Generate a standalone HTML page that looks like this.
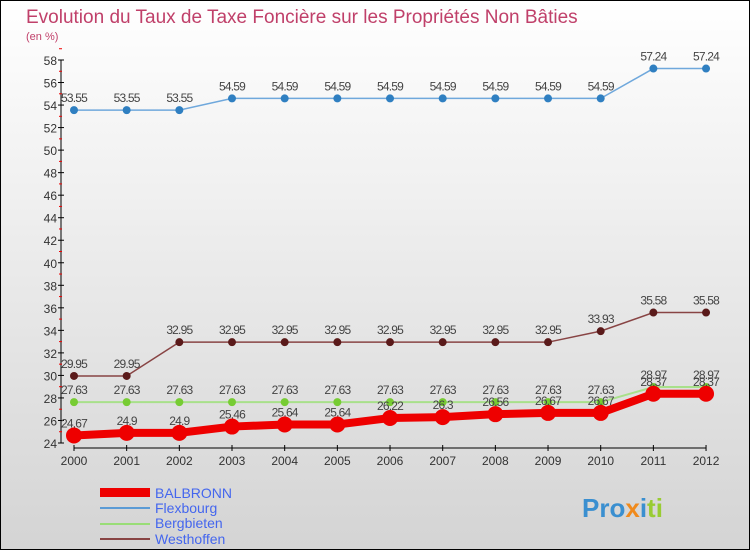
<!DOCTYPE html>
<html><head><meta charset="utf-8"><style>
body{margin:0;width:750px;height:550px;overflow:hidden;font-family:"Liberation Sans",sans-serif}
</style></head><body>
<svg id="c" width="750" height="550" xmlns="http://www.w3.org/2000/svg">
<defs><linearGradient id="bg" x1="0" y1="0" x2="0" y2="1"><stop offset="0" stop-color="#ffffff"/><stop offset="1" stop-color="#d4d4d4"/></linearGradient></defs>
<rect x="0.5" y="0.5" width="749" height="549" fill="url(#bg)" stroke="#000"/>
<text x="26" y="23" font-size="19" fill="#c0406a">Evolution du Taux de Taxe Foncière sur les Propriétés Non Bâties</text>
<text x="26" y="40" font-size="11" fill="#c0406a">(en %)</text>
<g id="axes"></g><g id="series"></g>
<g>
<rect x="100" y="488" width="50" height="9" fill="#e00"/>
<text x="155" y="498" font-size="14" fill="#4466ee">BALBRONN</text>
<line x1="100" y1="508" x2="150" y2="508" stroke="#5b9bd5" stroke-width="2"/>
<text x="155" y="513" font-size="14" fill="#4466ee">Flexbourg</text>
<line x1="100" y1="524" x2="150" y2="524" stroke="#99dd77" stroke-width="2"/>
<text x="155" y="528" font-size="14" fill="#4466ee">Bergbieten</text>
<line x1="100" y1="539" x2="150" y2="539" stroke="#884444" stroke-width="2"/>
<text x="155" y="544" font-size="14" fill="#4466ee">Westhoffen</text>
</g>
<text x="582" y="517" font-size="26" font-weight="bold"><tspan fill="#3a8fd0">Pro</tspan><tspan fill="#f08a1c">x</tspan><tspan fill="#3a8fd0">i</tspan><tspan fill="#99cc33">ti</tspan></text>
</svg>
<script>
const years=[2000,2001,2002,2003,2004,2005,2006,2007,2008,2009,2010,2011,2012];
const balbronn=[24.67,24.9,24.9,25.46,25.64,25.64,26.22,26.3,26.56,26.67,26.67,28.37,28.37];
const flexbourg=[53.55,53.55,53.55,54.59,54.59,54.59,54.59,54.59,54.59,54.59,54.59,57.24,57.24];
const bergbieten=[27.63,27.63,27.63,27.63,27.63,27.63,27.63,27.63,27.63,27.63,27.63,28.97,28.97];
const westhoffen=[29.95,29.95,32.95,32.95,32.95,32.95,32.95,32.95,32.95,32.95,33.93,35.58,35.58];
const yTicks=[24,26,28,30,32,34,36,38,40,42,44,46,48,50,52,54,56,58];
const NS="http://www.w3.org/2000/svg";
const x=i=>74+i*52.67;
const y=v=>443-(v-24)*(383/34);
function mk(t,a,p){const e=document.createElementNS(NS,t);for(const k in a)e.setAttribute(k,a[k]);p.appendChild(e);return e;}
const ax=document.getElementById('axes');
const yl=mk('line',{x1:61,y1:y(58),x2:61,y2:443,stroke:'#000'},ax);


yTicks.forEach(v=>{
 mk('line',{x1:58,y1:y(v),x2:64,y2:y(v),stroke:'#000'},ax);
 mk('line',{x1:59,y1:y(v+1),x2:62,y2:y(v+1),stroke:'#e00'},ax);
 const t=mk('text',{x:57,y:y(v)+5,'font-size':12,fill:'#333','text-anchor':'end'},ax);t.textContent=v;
 
 
});
const xl=mk('line',{x1:74,y1:448,x2:706,y2:448,stroke:'#000'},ax);


years.forEach((yr,i)=>{
 mk('line',{x1:x(i),y1:445,x2:x(i),y2:451,stroke:'#000'},ax);
 const t=mk('text',{x:x(i),y:465,'font-size':12,fill:'#333','text-anchor':'middle'},ax);t.textContent=yr;
 
 
});
const sg=document.getElementById('series');
function series(name,data,color,w,r,dot){
 const g=mk('g',{},sg);
 
 
 const pl=mk('polyline',{points:data.map((v,i)=>x(i)+','+y(v)).join(' '),fill:'none',stroke:color,'stroke-width':w},g);
 
 
 data.forEach((v,i)=>{
  const c=mk('circle',{cx:x(i),cy:y(v),r:r,fill:dot},g);
  
  
  const t=mk('text',{x:x(i),y:y(v)-8,'font-size':12,fill:'#444','text-anchor':'middle','letter-spacing':'-0.8'},g);t.textContent=v;
  
  
 });
}
series('flexbourg',flexbourg,'#6fa8dc',1.5,4,'#2f7fc1');
series('westhoffen',westhoffen,'#884444',1.5,4,'#5a1a1a');
series('bergbieten',bergbieten,'#a8e08a',2,4,'#77cc33');
series('balbronn',balbronn,'#ee0000',8,8,'#ee0000');
</script>
</body></html>
